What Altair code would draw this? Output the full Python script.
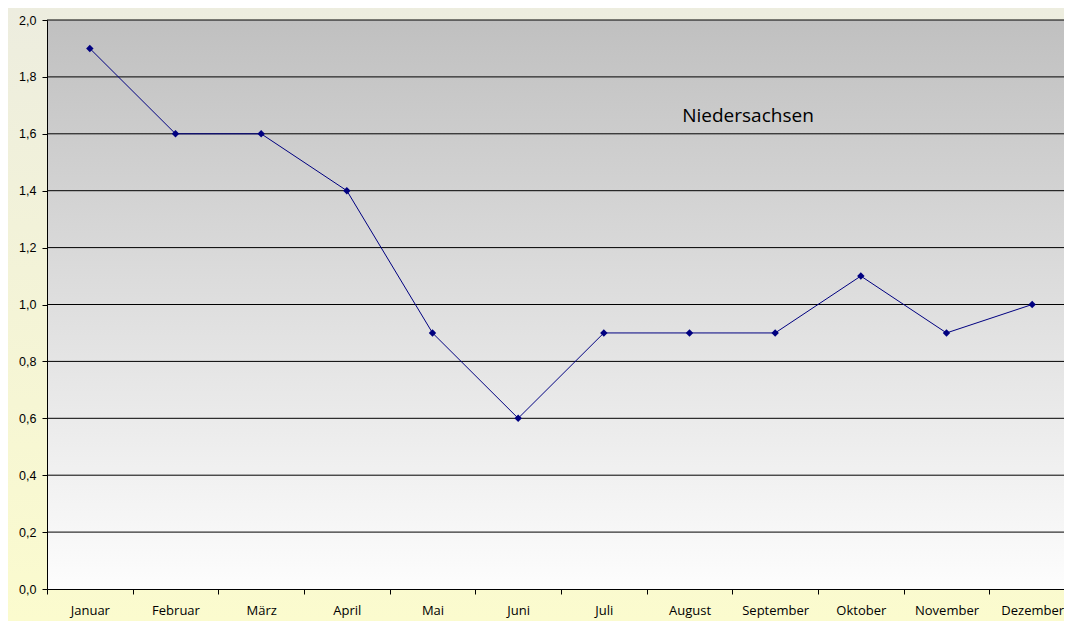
import altair as alt
import pandas as pd

months = ["Januar", "Februar", "März", "April", "Mai", "Juni", "Juli",
          "August", "September", "Oktober", "November", "Dezember"]
values = [1.9, 1.6, 1.6, 1.4, 0.9, 0.6, 0.9, 0.9, 0.9, 1.1, 0.9, 1.0]
grid_values = [0.2, 0.4, 0.6, 0.8, 1.0, 1.2, 1.4, 1.6, 1.8, 2.0]
tick_values = [0, 0.2, 0.4, 0.6, 0.8, 1.0, 1.2, 1.4, 1.6, 1.8, 2.0]
title_text = "Niedersachsen"

W, H = 1017, 569
XR = 1028
PL, PT, PR, PB = 39, 12, 0, 32

df = pd.DataFrame({"Monat": months, "Wert": values})
grid_df = pd.DataFrame({"Wert": grid_values})
bg_df = pd.DataFrame({"k": [0]})

outer_bg = alt.Chart(bg_df).mark_rect(
    color=alt.Gradient(gradient="linear", x1=0, y1=0, x2=0, y2=1,
                       stops=[alt.GradientStop(color="#ededdf", offset=0),
                              alt.GradientStop(color="#fbfbce", offset=1)])
).encode(x=alt.value(-PL), x2=alt.value(W + PR), y=alt.value(-PT), y2=alt.value(H + PB))

plot_bg = alt.Chart(bg_df).mark_rect(
    color=alt.Gradient(gradient="linear", x1=0, y1=0, x2=0, y2=1,
                       stops=[alt.GradientStop(color="#c0c0c0", offset=0),
                              alt.GradientStop(color="#fdfdfd", offset=1)])
).encode(x=alt.value(0), x2=alt.value(W), y=alt.value(0), y2=alt.value(H))

yscale = alt.Scale(domain=[0, 2.0], nice=False)

grid = alt.Chart(grid_df).mark_rule(color="#000000", strokeWidth=1).encode(
    y=alt.Y("Wert:Q", scale=yscale), x=alt.value(0), x2=alt.value(W))

xenc = alt.X("Monat:N", sort=months,
             scale=alt.Scale(domain=months, paddingInner=0, paddingOuter=0, range=[0, XR]),
             axis=alt.Axis(title=None, labelAngle=0, labelFont="Open Sans", labelFontSize=13,
                           labelColor="#000000", domainColor="#000000", tickColor="#000000",
                           tickSize=5, labelPadding=10, tickBand="extent", grid=False,
                           labelBaseline="top", zindex=1))
yenc = alt.Y("Wert:Q", scale=yscale,
             axis=alt.Axis(title=None, values=tick_values,
                           labelExpr="replace(format(datum.value, '.1f'), '.', ',')",
                           labelFont="Liberation Sans", labelFontSize=12.5, labelColor="#000000",
                           domainColor="#000000", tickColor="#000000", tickSize=5, labelPadding=6,
                           grid=False, zindex=1))

line = alt.Chart(df).mark_line(color="#000080", strokeWidth=1).encode(x=xenc, y=yenc)
pts = alt.Chart(df).mark_point(shape="diamond", filled=True, color="#000080", size=55, opacity=1).encode(
    x=alt.X("Monat:N", sort=months), y="Wert:Q")

label = alt.Chart(bg_df).mark_text(text=title_text, font="Open Sans", fontSize=19, color="#000000",
                                   align="center", baseline="middle").encode(
    x=alt.value(701), y=alt.value(96))

chart = alt.layer(outer_bg, plot_bg, grid, line, pts, label).properties(
    width=W, height=H,
    autosize=alt.AutoSizeParams(type="none"),
    padding={"left": PL, "top": PT, "right": PR, "bottom": PB},
).configure_view(stroke=None).configure(background="#f4f4d8")

chart.save("out.html", embed_options={"renderer": "svg", "actions": False})
